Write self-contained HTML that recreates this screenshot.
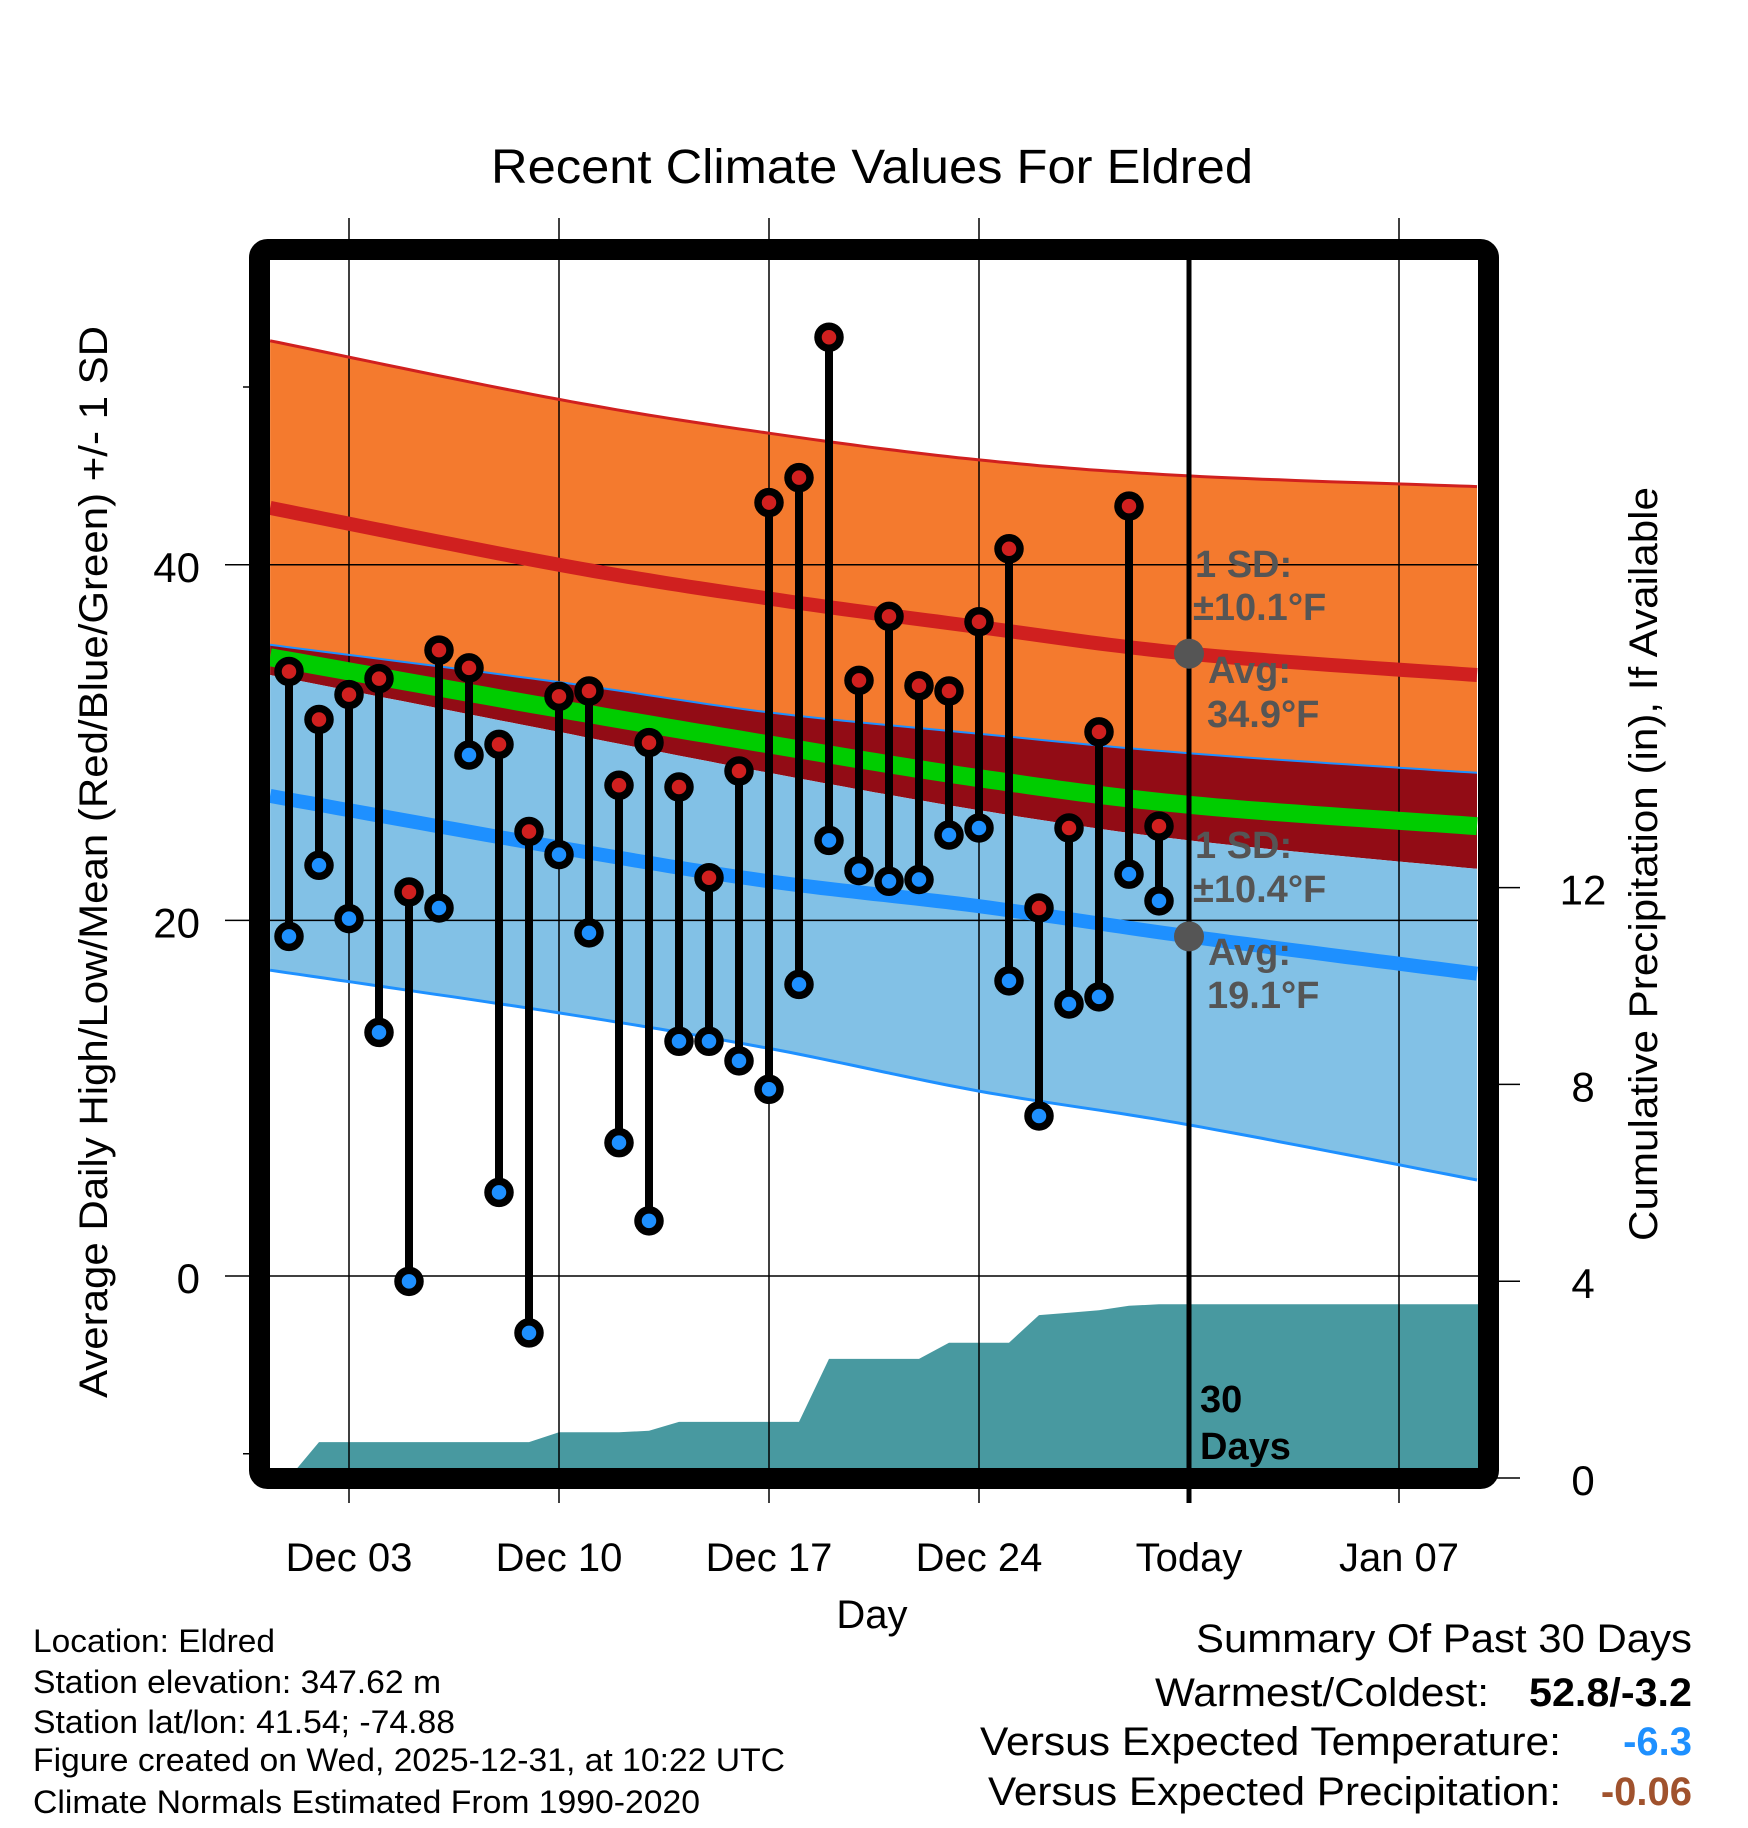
<!DOCTYPE html>
<html><head><meta charset="utf-8"><style>
html,body{margin:0;padding:0;background:#fff}
svg{display:block;font-family:"Liberation Sans",Arial,sans-serif}
</style></head><body>
<svg id="chart" width="1748" height="1828" viewBox="0 0 1748 1828" xmlns="http://www.w3.org/2000/svg">
<g id="bands"></g>
<g id="precip"></g>
<g id="grid"></g>
<g id="lines"></g>
<g id="marks"></g>
<g id="annot"></g>
<rect x="259.5" y="249.5" width="1229" height="1229" rx="8" fill="none" stroke="#000" stroke-width="21"/>
<g id="axes"></g>
<text x="872" y="183" text-anchor="middle" font-size="48" textLength="762" lengthAdjust="spacingAndGlyphs">Recent Climate Values For Eldred</text>
<text x="872" y="1628" text-anchor="middle" font-size="40">Day</text>
<text transform="translate(107,862) rotate(-90)" text-anchor="middle" font-size="40" textLength="1072" lengthAdjust="spacingAndGlyphs">Average Daily High/Low/Mean (Red/Blue/Green) +/- 1 SD</text>
<text transform="translate(1657,864) rotate(-90)" text-anchor="middle" font-size="40" textLength="754" lengthAdjust="spacingAndGlyphs">Cumulative Precipitation (in), If Available</text>
<g font-size="32">
<text x="33" y="1652" textLength="242" lengthAdjust="spacingAndGlyphs">Location: Eldred</text>
<text x="33" y="1693" textLength="408" lengthAdjust="spacingAndGlyphs">Station elevation: 347.62 m</text>
<text x="33" y="1733" textLength="422" lengthAdjust="spacingAndGlyphs">Station lat/lon: 41.54; -74.88</text>
<text x="33" y="1771" textLength="752" lengthAdjust="spacingAndGlyphs">Figure created on Wed, 2025-12-31, at 10:22 UTC</text>
<text x="33" y="1813" textLength="667" lengthAdjust="spacingAndGlyphs">Climate Normals Estimated From 1990-2020</text>
</g>
<g font-size="40">
<text x="1692" y="1652" text-anchor="end" textLength="496" lengthAdjust="spacingAndGlyphs">Summary Of Past 30 Days</text>
<text x="1489" y="1706" text-anchor="end" textLength="334" lengthAdjust="spacingAndGlyphs">Warmest/Coldest:</text>
<text x="1692" y="1706" text-anchor="end" font-weight="bold" textLength="163" lengthAdjust="spacingAndGlyphs">52.8/-3.2</text>
<text x="1561" y="1755" text-anchor="end" textLength="581" lengthAdjust="spacingAndGlyphs">Versus Expected Temperature:</text>
<text x="1692" y="1755" text-anchor="end" font-weight="bold" fill="#1e90ff">-6.3</text>
<text x="1561" y="1805" text-anchor="end" textLength="573" lengthAdjust="spacingAndGlyphs">Versus Expected Precipitation:</text>
<text x="1692" y="1805" text-anchor="end" font-weight="bold" fill="#a0522d">-0.06</text>
</g>
</svg>
<script>
// ---- data ----
const dayLabels = ["Dec 03","Dec 10","Dec 17","Dec 24","Today","Jan 07"];
const dayTicks = [3,10,17,24,31,38];
const highs = [34.0,31.3,32.7,33.6,21.6,35.2,34.2,29.9,25.0,32.6,32.9,27.6,30.0,27.5,22.4,28.4,43.5,44.9,52.8,33.5,37.1,33.2,32.9,36.8,40.9,20.7,25.2,30.6,43.3,25.3];
const lows = [19.1,23.1,20.1,13.7,-0.3,20.7,29.3,4.7,-3.2,23.7,19.3,7.5,3.1,13.2,13.2,12.1,10.5,16.4,24.5,22.8,22.2,22.3,24.8,25.2,16.6,9.0,15.3,15.7,22.6,21.1];
const precip = [0,0.73,0.73,0.73,0.73,0.73,0.73,0.73,0.73,0.93,0.93,0.93,0.96,1.14,1.14,1.14,1.14,1.14,2.42,2.42,2.42,2.42,2.75,2.75,2.75,3.31,3.36,3.41,3.5,3.53];
const normDays = [0.37,10,17,24,31,40.6];
const highPlusSD = [52.6,49.3,47.4,45.9,45.0,44.4];
const highAvg = [43.2,40.0,38.1,36.5,35.0,33.8];
const lowPlusSD = [35.5,33.4,31.7,30.5,29.4,28.3];
const meanAvg = [34.8,31.9,29.9,28.0,26.5,25.3];
const highMinusSD = [33.8,30.6,28.3,26.2,24.5,22.9];
const lowAvg = [27.0,24.1,22.2,20.8,19.1,17.0];
const lowMinusSD = [17.2,14.8,12.8,10.4,8.5,5.4];
const yTicks = [0,20,40];
const yMinor = [-10,50];
const precipTicks = [0,4,8,12];
const todayDay = 31;

// ---- scales ----
const X = d => 289 + (d-1)*30;
const Y = v => 1276 - 17.78*v;
const P = p => 1478 - 49.2*p;
const NS = "http://www.w3.org/2000/svg";
function mk(tag, attrs, parent){const e=document.createElementNS(NS,tag);for(const k in attrs)e.setAttribute(k,attrs[k]);parent.appendChild(e);return e;}
function curve(vals){
  const pts=[];const n=normDays.length;
  for(let i=0;i<n-1;i++){
    const p0=i>0?i-1:i,p3=i+2<n?i+2:i+1;
    for(let s=0;s<20;s++){const t=s/20;
      const cr=(a,b,c,d)=>0.5*((2*b)+(-a+c)*t+(2*a-5*b+4*c-d)*t*t+(-a+3*b-3*c+d)*t*t*t);
      const dd=cr(normDays[p0],normDays[i],normDays[i+1],normDays[p3]);
      const vv=cr(vals[p0],vals[i],vals[i+1],vals[p3]);
      pts.push([X(dd),Y(vv)]);}
  }
  pts.push([X(normDays[n-1]),Y(vals[n-1])]);
  return pts;
}
const ps = a => a.map(p=>p[0].toFixed(1)+","+p[1].toFixed(1)).join(" ");
function band(top,bot,fill,name){
  const t=curve(top),b=curve(bot).reverse();
  const e=mk("polygon",{points:ps(t.concat(b)),fill:fill},document.getElementById("bands"));
  
  
}
band(highPlusSD,lowPlusSD,"#f47a2e","high-sd-band");
band(lowPlusSD,highMinusSD,"#920c15","overlap-band");
band(highMinusSD,lowMinusSD,"#82c1e6","low-sd-band");

const pg=document.getElementById("precip");
let pp=[[X(1),P(0)]];
precip.forEach((v,i)=>pp.push([X(i+1),P(v)]));
pp.push([1478,P(precip[precip.length-1])]);
pp.push([1478,1468]);pp.push([X(1),1468]);
const pa=mk("polygon",{points:ps(pp),fill:"#4899a0"},pg);



const gg=document.getElementById("grid");
dayTicks.forEach((d,i)=>{
  if(d===todayDay) return;
  const l=mk("line",{x1:X(d),x2:X(d),y1:218,y2:1503,stroke:"#000","stroke-width":1.5},gg);
  
  
});
yTicks.forEach(v=>{
  const l=mk("line",{x1:225,x2:1478,y1:Y(v),y2:Y(v),stroke:"#000","stroke-width":1.5},gg);
  
  
});
yMinor.forEach(v=>{
  const l=mk("line",{x1:243,x2:260,y1:Y(v),y2:Y(v),stroke:"#000","stroke-width":1.5},gg);
  
  
});

const lg=document.getElementById("lines");
function line(vals,color,w,name){
  const e=mk("polyline",{points:ps(curve(vals)),fill:"none",stroke:color,"stroke-width":w},lg);
  
  
}
line(highPlusSD,"#d0201f",3,"high-plus-sd-line");
line(lowPlusSD,"#1e90ff",2,"low-plus-sd-line");
line(lowMinusSD,"#1e90ff",3,"low-minus-sd-line");
line(highAvg,"#d0201f",14,"high-average-line");
line(meanAvg,"#00cc00",18,"mean-average-line");
line(lowAvg,"#1e90ff",14,"low-average-line");
const tl=mk("line",{x1:X(todayDay),x2:X(todayDay),y1:260,y2:1503,stroke:"#000","stroke-width":5},lg);



const mg=document.getElementById("marks");
highs.forEach((h,i)=>{
  const x=X(i+1);
  const s=mk("line",{x1:x,x2:x,y1:Y(h),y2:Y(lows[i]),stroke:"#000","stroke-width":8},mg);
  
  
});
highs.forEach((h,i)=>{
  const x=X(i+1);
  const a=mk("circle",{cx:x,cy:Y(h),r:11,fill:"#d0201f",stroke:"#000","stroke-width":7.5},mg);
  
  
  const b=mk("circle",{cx:x,cy:Y(lows[i]),r:11,fill:"#1e90ff",stroke:"#000","stroke-width":7.5},mg);
  
  
});

const ag=document.getElementById("annot");
[[highAvg[4]],[lowAvg[4]]].forEach(v=>{
  const c=mk("circle",{cx:X(todayDay),cy:Y(v[0]),r:15,fill:"#555"},ag);
  
  
});
const annTexts=[["1 SD:",1195,577],["\u00b110.1\u00b0F",1193,620],["Avg:",1208,683],["34.9\u00b0F",1207,727],
 ["1 SD:",1195,858],["\u00b110.4\u00b0F",1193,902],["Avg:",1208,965],["19.1\u00b0F",1207,1008]];
annTexts.forEach(t=>{
  const e=mk("text",{x:t[1],y:t[2],"font-size":38,"font-weight":"bold",fill:"#555"},ag);
  e.textContent=t[0];
  
  
});
[["30",1412],["Days",1459]].forEach(t=>{
  const e=mk("text",{x:1200,y:t[1],"font-size":38,"font-weight":"bold",fill:"#000"},ag);
  e.textContent=t[0];
  
  
});

const xg=document.getElementById("axes");
dayTicks.forEach((d,i)=>{
  const e=mk("text",{x:X(d),y:1571,"text-anchor":"middle","font-size":40},xg);
  e.textContent=dayLabels[i];
  
  
});
yTicks.forEach(v=>{
  const e=mk("text",{x:200,y:Y(v)+17,"text-anchor":"end","font-size":42},xg);
  e.textContent=String(v);
  
  
});
precipTicks.forEach(p=>{
  const l=mk("line",{x1:1488,x2:1520,y1:P(p),y2:P(p),stroke:"#000","stroke-width":1.5},xg);
  
  
  const e=mk("text",{x:1583,y:P(p)+17,"text-anchor":"middle","font-size":42},xg);
  e.textContent=String(p);
  
  
});
</script>
</body></html>
